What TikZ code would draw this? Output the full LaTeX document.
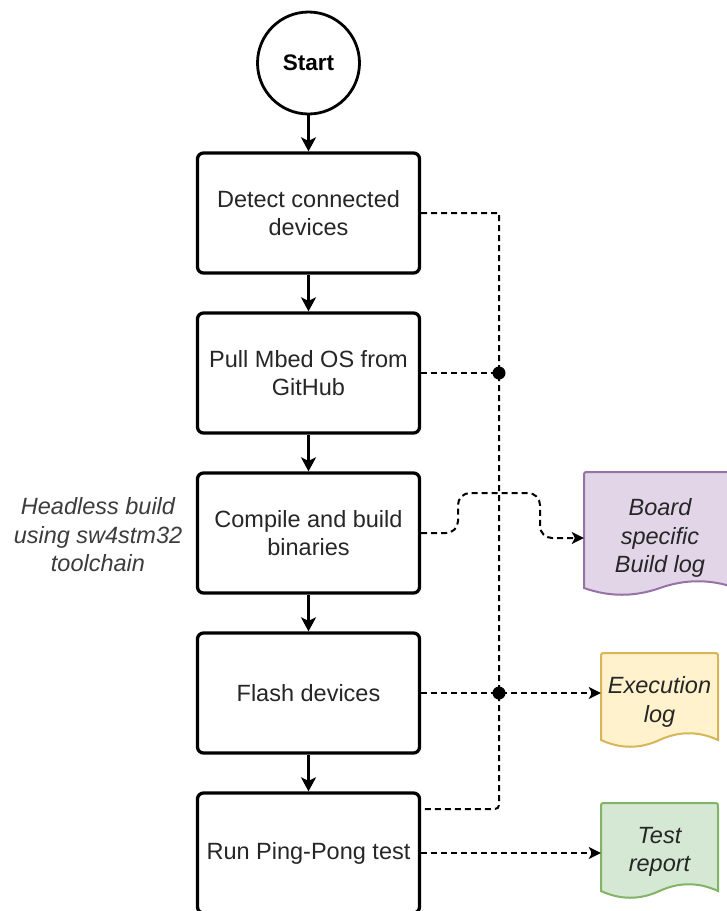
\documentclass[tikz,border=0pt]{standalone}
\usepackage{fontspec}
\setmainfont{Liberation Sans}
\usetikzlibrary{arrows.meta,calc}

\definecolor{txt}{HTML}{262626}
\definecolor{note}{HTML}{3C3C3C}
\definecolor{purpleFill}{HTML}{E1D5E7}
\definecolor{purpleLine}{HTML}{9673A6}
\definecolor{yellowFill}{HTML}{FFF2CC}
\definecolor{yellowLine}{HTML}{D6B656}
\definecolor{greenFill}{HTML}{D5E8D4}
\definecolor{greenLine}{HTML}{82B366}

% document shape: #1 left, #2 top, #3 right, #4 base of the wavy edge, #5 fill, #6 outline
\newcommand\docshape[6]{%
  \draw[line width=2pt, draw=#6, fill=#5]
    (#1,#4) -- (#1,{#2+5}) .. controls (#1,#2) .. ({#1+5},#2)
    -- ({#3-5},#2) .. controls (#3,#2) .. (#3,{#2+5}) -- (#3,#4)
    .. controls ({#3-(#3-#1)/6},{#4-9}) and ({#3-(#3-#1)/3},{#4-9}) .. ({(#1+#3)/2},#4)
    .. controls ({#1+(#3-#1)/3},{#4+9}) and ({#1+(#3-#1)/6},{#4+9}) .. (#1,#4) -- cycle;}

\begin{document}
\begin{tikzpicture}[x=1pt,y=-1pt,
  basefont/.style={font=\fontsize{23.5}{28.5}\selectfont},
  stepbox/.style={draw, line width=3.3pt, rounded corners=6pt, minimum width=222pt,
    minimum height=120pt, align=center, text=txt, basefont},
  startnode/.style={draw, circle, line width=2.8pt, minimum size=102pt,
    font=\fontsize{22.5}{27}\selectfont\bfseries},
  doctext/.style={align=center, text=txt, basefont, inner sep=0pt,
    font=\fontsize{23.5}{28.5}\selectfont\itshape},
  flow/.style={line width=2.3pt, -{Stealth[length=14pt,width=15pt,inset=3.5pt]}},
  dline/.style={line width=2pt, dash pattern=on 6pt off 4pt},
  darrow/.style={dline, -{Stealth[length=12pt,width=12pt,inset=3pt]}}
]
\clip (0,0) rectangle (727,911);
\fill[white] (0,0) rectangle (727,911);

% main flow
\node[startnode] (start) at (308.5,63) {Start};
\node[stepbox] (b1) at (308.5,213) {Detect connected\\devices};
\node[stepbox] (b2) at (308.5,373) {Pull Mbed OS from\\GitHub};
\node[stepbox] (b3) at (308.5,533) {Compile and build\\binaries};
\node[stepbox] (b4) at (308.5,693) {Flash devices};
\node[stepbox] (b5) at (308.5,853) {Run Ping-Pong test};

\node[align=center, text=note, font=\fontsize{23.5}{28.5}\selectfont\itshape] (hint) at (98,535)
  {Headless build\\using sw4stm32\\toolchain};

\draw[flow] (start) -- (b1);
\draw[flow] (b1) -- (b2);
\draw[flow] (b2) -- (b3);
\draw[flow] (b3) -- (b4);
\draw[flow] (b4) -- (b5);

% output documents
\docshape{584}{472}{736}{588}{purpleFill}{purpleLine}
\docshape{601}{653}{718}{740}{yellowFill}{yellowLine}
\docshape{601}{803}{718}{891}{greenFill}{greenLine}
\node[doctext, minimum width=152pt] (board) at (660,538) {Board\\specific\\Build log};
\node[doctext, minimum width=117pt] (exec) at (659.5,702) {Execution\\log};
\node[doctext, minimum width=117pt] (test) at (659.5,852) {Test\\report};

% shared logging bus on the right
\coordinate (bt) at (499,213);
\coordinate (d1) at (499,373);
\coordinate (d2) at (499,693);
\coordinate (bb) at (499,809);

\draw[dline] (b1.east |- bt) -- (bt) -- (499,800) .. controls (bb) .. (490,809) -- (b5.east |- bb);
\draw[dline] (b2.east) -- (d1);
\draw[darrow] (b4.east) -- (exec.west |- b4.east);
\draw[darrow] (b5.east) -- (test.west |- b5.east);
\draw[darrow, rounded corners=12pt] (b3.east) -- (458,533) -- (458,493) -- (540,493)
  -- (540,538) -- (board.west);
\fill (d1) circle (6.5pt);
\fill (d2) circle (6.5pt);
\end{tikzpicture}
\end{document}
